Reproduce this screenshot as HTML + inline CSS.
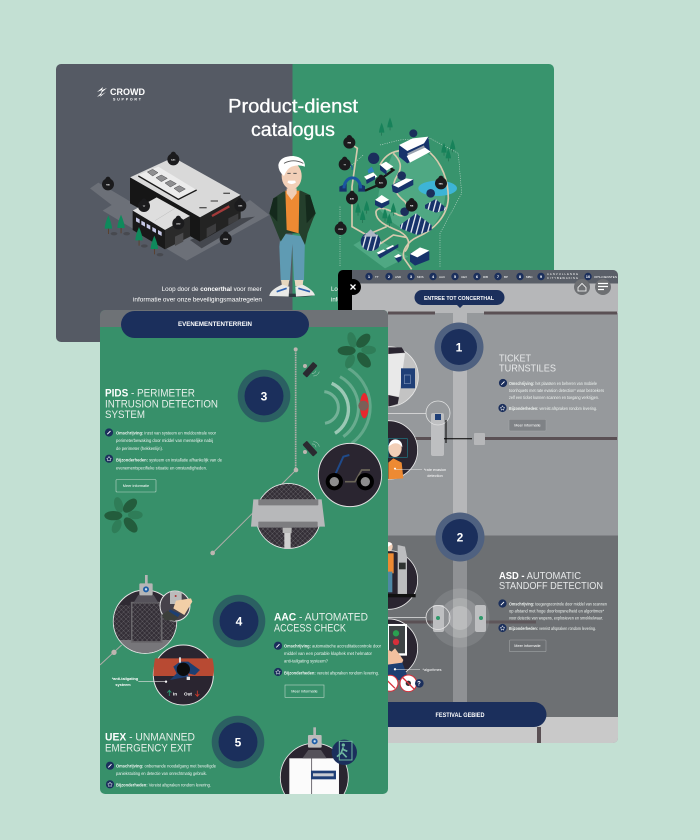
<!DOCTYPE html>
<html lang="nl"><head><meta charset="utf-8"><title>Product-dienst catalogus</title>
<style>
html,body{margin:0;padding:0;background:#c3e0d3}
svg{display:block}
text{font-family:"Liberation Sans",sans-serif;fill:#fff}
.b{font-size:4.2px;fill:#eef3f0}
.h{font-size:11px;fill:#e6efe9}
.h2{font-size:10.5px;fill:#e6e8e9}
.m{font-size:12px;font-weight:bold;text-anchor:middle}
.k{font-size:6px;text-anchor:middle;font-weight:bold}
</style></head><body>
<svg width="700" height="840" viewBox="0 0 700 840" xmlns="http://www.w3.org/2000/svg">
<defs>
<clipPath id="c1"><rect x="56" y="64" width="498" height="278" rx="5"/></clipPath>
<clipPath id="c2"><rect x="338" y="270" width="280" height="473" rx="5"/></clipPath>
<clipPath id="c3"><rect x="100" y="310" width="288" height="484" rx="5"/></clipPath>
<clipPath id="camc"><circle cx="580" cy="633" r="96"/></clipPath>
<clipPath id="gatec"><circle cx="120" cy="155" r="94"/></clipPath>
<g id="mk"><circle cy="-15" r="8" fill="#1b1b1d"/><circle r="18" fill="#1b1b1d"/></g>
<g id="ic1"><circle r="4.1" fill="#1b2f5c"/><path d="M-1.7 1.7L1.5-1.5" stroke="#fff" stroke-width=".9"/></g>
<g id="ic2"><circle r="4.1" fill="#1b2f5c"/><path d="M0-2.3L.8-.7 2.3-.4 1.2.8 1.4 2.2 0 1.5-1.4 2.2-1.2.8-2.3-.4-.8-.7Z" fill="none" stroke="#fff" stroke-width=".5"/></g>
<g id="tr"><path d="M0-26Q-11 0-11 14H11Q11 0 0-26Z" fill="#0f8a5c"/><rect x="-1" y="14" width="2.4" height="16" fill="#5b3b22"/></g>
<g id="tr2"><path d="M0-20Q-8 0-8 10H8Q8 0 0-20Z" fill="#17825a"/><rect x="-.8" y="10" width="1.8" height="9" fill="#1f6a4b"/></g>
<g id="palm">
<g fill="#2f7d58"><ellipse cx="-14" cy="-30" rx="13" ry="24" transform="rotate(-15 -14 -30)"/><ellipse cx="36" cy="0" rx="22" ry="13"/><ellipse cx="-20" cy="34" rx="13" ry="22" transform="rotate(25 -20 34)"/></g>
<g fill="#235c3c"><ellipse cx="20" cy="-28" rx="26" ry="15" transform="rotate(-45 20 -28)"/><ellipse cx="-30" cy="2" rx="27" ry="14"/><ellipse cx="22" cy="30" rx="27" ry="15" transform="rotate(50 22 30)"/></g>
</g>
<pattern id="mesh" width="14" height="14" patternUnits="userSpaceOnUse"><rect width="14" height="14" fill="#342f37"/><path d="M0 0L14 14M14 0L0 14" stroke="#716e74" stroke-width="1.3"/></pattern>
<pattern id="stripe" width="16" height="16" patternUnits="userSpaceOnUse" patternTransform="rotate(15)"><rect width="16" height="16" fill="#17336b"/><rect width="4" height="16" fill="#e9edf3"/></pattern>
</defs>
<rect width="700" height="840" fill="#c3e0d3"/>

<!-- CARD 1 -->
<g clip-path="url(#c1)">
<rect x="56" y="64" width="236.5" height="278" fill="#555a64"/>
<rect x="292.5" y="64" width="262" height="278" fill="#38946d"/>
</g>
<path d="M97 92L103 87 102 90 107 88 101 93 102 90ZM97 97L102 92 101 95 106 92 100 97 101 95Z" fill="#fff"/>
<text x="110" y="95" font-size="9.5" textLength="35" lengthAdjust="spacingAndGlyphs" font-weight="bold">CROWD</text>
<text x="113" y="100.5" font-size="3.6" textLength="28" font-weight="bold">SUPPORT</text>
<text x="228" y="112.7" font-size="19.5" textLength="130" lengthAdjust="spacingAndGlyphs" stroke="#fff" stroke-width=".3">Product-dienst</text>
<text x="251" y="136" font-size="19.5" textLength="84" lengthAdjust="spacingAndGlyphs" stroke="#fff" stroke-width=".3">catalogus</text>
<text x="161.7" y="291" font-size="6" fill="#e8e9ea" textLength="100" lengthAdjust="spacingAndGlyphs">Loop door de <tspan font-weight="bold" fill="#fff">concerthal</tspan> voor meer</text>
<text x="133" y="301.5" font-size="6" fill="#e8e9ea" textLength="129" lengthAdjust="spacingAndGlyphs">informatie over onze beveiligingsmaatregelen</text>
<text x="331" y="291" font-size="6">Loop</text><text x="331" y="301.5" font-size="6">informatie</text>

<!-- building -->
<g transform="translate(90 140) scale(.3333)">
<path d="M0 145L25 128 130 190 330 270 480 180 538 225 290 362 38 212 65 195Z" fill="#6c7078"/>
<path d="M300 300L452 235 495 230 335 325Z" fill="#44474e"/>
<path d="M120 112L250 52 452 165 330 232Z" fill="#d9d9d9"/>
<path d="M120 112L330 232V305L120 190Z" fill="#161616"/>
<path d="M330 232L452 165V235L330 305Z" fill="#232323"/>
<path d="M145 105L205 80 320 150 265 178Z" fill="#ececec"/>
<path d="M145 108L265 178 320 150" fill="none" stroke="#1a1a1a" stroke-width="4"/>
<g fill="#8f8f91" stroke="#4a4a4c" stroke-width="1.5"><path d="M172 96L188 88 204 98 188 108Z"/><path d="M198 113L214 105 232 115 214 125Z"/><path d="M225 129L241 121 259 131 241 141Z"/><path d="M252 145L268 137 286 147 268 157Z"/></g>
<path d="M366 228L418 199" stroke="#a33a3a" stroke-width="7"/>
<path d="M350 265L378 250V275L350 292Z M415 235L445 220V240L415 255Z" fill="#3d3d3f"/>
<g stroke="#555" stroke-width="4"><path d="M400 160L420 160M362 183L384 183M328 203L350 203"/></g>
<path d="M128 212L200 172 300 228 225 270Z" fill="#dedede"/>
<path d="M128 212L225 270V328L128 270Z" fill="#191919"/>
<path d="M225 270L300 228V290L225 328Z" fill="#2a2a2a"/>
<path d="M195 242L255 205" stroke="#bbb" stroke-width="1.5"/>
<g fill="#c6c8e6"><path d="M138 232L149 238V250L138 244Z"/><path d="M154 242L165 248V260L154 254Z"/><path d="M170 251L181 257V269L170 263Z"/><path d="M187 261L198 267V279L187 273Z"/><path d="M204 270L215 276V288L204 282Z"/></g>
<path d="M255 290L280 278V305L255 318Z" fill="#4a4a4c"/>
<g fill="#47494f"><ellipse cx="72" cy="281" rx="10" ry="5"/><ellipse cx="110" cy="281" rx="10" ry="5"/><ellipse cx="163" cy="318" rx="10" ry="5"/><ellipse cx="210" cy="344" rx="10" ry="5"/></g>
<use href="#tr" x="55" y="252"/><use href="#tr" x="93" y="250"/><use href="#tr" x="147" y="287"/><use href="#tr" x="193" y="313"/>
<use href="#mk" x="250" y="58"/><use href="#mk" x="54" y="133"/><use href="#mk" x="162" y="198"/><use href="#mk" x="451" y="197"/><use href="#mk" x="265" y="250"/><use href="#mk" x="407" y="297"/>
<text class="k" x="250" y="61">AAC</text><text class="k" x="54" y="136">RIB</text><text class="k" x="162" y="201">TT</text><text class="k" x="451" y="200">UEX</text><text class="k" x="265" y="253">ASD</text><text class="k" x="407" y="300">PIDS</text>
</g>

<!-- map -->
<g transform="translate(330 120) scale(.3333)">
<path d="M190 95C240 70 300 90 330 140 360 200 350 290 290 335 250 350 190 320 150 270 130 220 170 150 190 95Z" fill="#4fa883"/>
<path d="M70 375L120 345 235 410 165 445Z" fill="#4fa883"/>
<ellipse cx="323" cy="205" rx="58" ry="23" fill="#3db4d6"/>
<g fill="none" stroke="#e0e6e0" stroke-width="1.6" stroke-dasharray="3 4">
<path d="M150 75L210 60 300 55 385 100 395 220 330 340V440"/><path d="M30 260V440"/><path d="M60 140L100 105"/>
</g>
<g fill="none" stroke="#d6caae" stroke-width="5">
<path d="M60 70L82 85 66 200V320L110 345"/>
<path d="M215 92C190 92 165 105 150 135"/>
<path d="M300 98C335 130 355 180 355 235 352 290 310 330 265 350 230 365 215 395 222 415L245 448"/>
<path d="M190 100C210 120 220 140 200 170 180 200 200 225 225 245 240 268 230 295 205 285 180 270 145 255 138 275 135 305 175 320 210 335 235 350 245 370 225 395"/>
<path d="M110 345L170 320M150 372L190 345 228 352"/>
</g>
<g><path d="M28 200L50 190V215L28 215ZM85 190L105 198V215H85Z" fill="#17336b"/>
<path d="M42 205A24 30 0 0 1 92 205" fill="none" stroke="#1a55a0" stroke-width="9"/></g>
<path d="M35 130C55 125 70 135 66 150" fill="none" stroke="#1a55a0" stroke-width="3"/>
<path d="M105 212L145 195 155 175 190 150 175 140" fill="none" stroke="#1a1a1a" stroke-width="7"/>
<path d="M207 75L295 50 300 95 232 130 207 110Z" fill="#17336b"/>
<path d="M207 75L248 55 295 50 282 70 232 93Z" fill="#fff"/>
<path d="M232 100L282 76 285 85 235 110Z" fill="#9aa2ae"/>
<path d="M230 108L285 83 302 95 240 128Z" fill="#fff"/>
<path d="M150 135L168 125 190 140 170 152Z" fill="#fff"/><path d="M150 135L170 152V165L150 150Z" fill="#17336b"/>
<path d="M113 150L125 140 133 155 115 160Z" fill="#2f7fc0"/>
<path d="M102 170L130 157 142 170 115 185Z" fill="#fff"/><path d="M108 180L135 167V178L110 192Z" fill="#17336b"/>
<path d="M185 195L225 175 250 178V195L200 220 188 215Z" fill="#17336b"/><path d="M188 195L228 175 250 178 205 203Z" fill="#fff"/>
<path d="M135 240L155 225 178 240 155 250Z" fill="#fff"/><path d="M135 240L155 250 178 240V252L155 265 135 255Z" fill="#17336b"/>
<path d="M210 315L258 280 305 315V330L262 345 210 325Z" fill="url(#stripe)"/>
<path d="M285 255L317 237 347 262V270L318 278 285 265Z" fill="url(#stripe)"/>
<ellipse cx="122" cy="365" rx="30" ry="28" fill="url(#stripe)"/><path d="M100 350L122 328 144 350Z" fill="#aeb8c6"/>
<path d="M240 400L270 385 298 395V420L255 437 240 425Z" fill="#17336b"/><path d="M240 402L270 382 298 392 262 412Z" fill="#fff"/>
<g fill="#fff"><path d="M140 398L160 388 172 395 150 406Z"/><path d="M168 385L188 375 198 382 178 392Z"/><path d="M192 410L205 402 215 408 203 416Z"/></g>
<path d="M142 405L205 372V382L150 415ZM195 415L215 408V420L205 428Z" fill="#17336b"/>
<use href="#tr2" x="155" y="28"/><use href="#tr2" x="180" y="12"/><use href="#tr2" x="342" y="88"/><use href="#tr2" x="368" y="78"/><use href="#tr2" x="355" y="105"/><use href="#tr2" x="84" y="268"/><use href="#tr2" x="110" y="262"/><use href="#tr2" x="98" y="290"/><use href="#tr2" x="165" y="285"/><use href="#tr2" x="190" y="268"/><use href="#tr2" x="178" y="300"/>
<g fill="#1b2f5c"><circle cx="131" cy="115" r="17"/><circle cx="250" cy="40" r="12"/><circle cx="215" cy="167" r="13"/><circle cx="302" cy="220" r="13"/><circle cx="224" cy="275" r="13"/></g>
<use href="#mk" x="58" y="68"/><use href="#mk" x="44" y="133"/><use href="#mk" x="66" y="235"/><use href="#mk" x="153" y="187"/><use href="#mk" x="32" y="327"/><use href="#mk" x="333" y="190"/><use href="#mk" x="245" y="257"/>
<text class="k" x="58" y="71">RIB</text><text class="k" x="44" y="136">TT</text><text class="k" x="66" y="238">ASD</text><text class="k" x="153" y="190">AAC</text><text class="k" x="32" y="330">PIDS</text><text class="k" x="333" y="193">MBC</text><text class="k" x="245" y="260">RIB</text>
</g>

<!-- person -->
<g transform="translate(260 150) scale(.3333)">
<ellipse cx="97" cy="436" rx="62" ry="5" fill="#2c3a3f"/>
<path d="M62 250L135 260 132 392H102L97 282 90 392H62L58 290Z" fill="#5f9bb3"/>
<path d="M63 390H88L85 408H66ZM104 390H130L128 408H106Z" fill="#e6d7bf"/>
<path d="M28 438Q30 420 66 404L88 410 86 440ZM106 410L128 404Q160 420 165 436L108 440Z" fill="#e9e9e6"/>
<path d="M50 425L80 415M115 415L150 425" stroke="#2f62b0" stroke-width="5"/>
<path d="M70 125L122 122 150 135 167 190 160 205 143 250 135 285 118 250 78 250 62 275 40 220 28 190 40 145Z" fill="#243f2c"/>
<path d="M28 190L40 145 52 140 52 215ZM167 190L150 135 136 135 140 220Z" fill="#14291c"/>
<path d="M76 122H118L116 250 80 240Z" fill="#ed8a33"/>
<path d="M80 115H110V130L95 150 80 130Z" fill="#f0cdb4"/>
<ellipse cx="95" cy="78" rx="30" ry="40" fill="#f2cfb7"/>
<path d="M82 97Q95 108 108 97L105 92H85Z" fill="#fff"/>
<path d="M82 70h10M100 70h10" stroke="#555" stroke-width="3"/>
<path d="M55 45Q60 18 100 18 135 22 135 50 115 42 95 50 82 55 72 78 55 65 55 45Z" fill="#fff"/>
<path d="M72 40Q100 25 130 40" fill="none" stroke="#555" stroke-width="2.5"/>
</g>

<!-- CARD 2 -->
<g clip-path="url(#c2)">
<rect x="338" y="270" width="280" height="473" fill="#96999c"/>
<rect x="338" y="283" width="280" height="30" fill="#b6b7b9"/>
<rect x="338" y="535.5" width="280" height="181.5" fill="#6d7073"/>
<rect x="338" y="717" width="280" height="26" fill="#c9c9c9"/>
<rect x="338" y="270" width="280" height="13.5" fill="#5a5f68"/>
<rect x="338" y="270" width="14" height="60" fill="#000"/>
<rect x="453" y="313" width="14" height="222" fill="#b6b7b9"/>
<rect x="453" y="535" width="14" height="168" fill="#8f9194"/>
<g fill="#5a5054"><rect x="388" y="311.5" width="47" height="3"/><rect x="484" y="311.5" width="133" height="3"/><rect x="388" y="437" width="44" height="3"/><rect x="485" y="437" width="132" height="3"/><rect x="388" y="620.5" width="45" height="3"/><rect x="486" y="620.5" width="50" height="3" opacity=".8"/><rect x="537" y="727" width="4" height="16"/></g>

<!-- photo circles -->
<g transform="translate(385 340) scale(.3333)">
<circle cx="10" cy="110" r="90" fill="#c3c3c3" stroke="#e8e8e8" stroke-width="2.5"/>
<path d="M10 40H60L42 170 10 165Z" fill="#e9e9e9"/><path d="M10 22H50L60 38 10 42Z M10 165L42 172 38 192 10 200Z" fill="#2a2530"/>
<rect x="48" y="85" width="42" height="60" fill="#1f3f77"/><path d="M58 105h18v26h-18z" fill="none" stroke="#7d93b8" stroke-width="2"/>
<circle cx="10" cy="330" r="88" fill="#2a2530" stroke="#e8e8e8" stroke-width="2.5"/>
<rect x="10" y="296" width="57" height="56" fill="none" stroke="#1e7d88" stroke-width="2"/>
<path d="M10 395V368L25 355 50 368 55 415 10 418Z" fill="#ed8a33"/>
<ellipse cx="30" cy="325" rx="20" ry="26" fill="#f2cfb7"/><path d="M10 320Q15 298 32 298 52 300 52 322 40 305 22 312Z" fill="#fff"/>
<circle cx="30" cy="386" r="3" fill="#fff"/>
<circle cx="10" cy="720" r="88" fill="#2a2530" stroke="#e8e8e8" stroke-width="2.5"/>
<path d="M38 615L60 620 66 650V770H38Z" fill="#bcbdbf"/><rect x="42" y="668" width="20" height="20" fill="#2e3230"/>
<rect x="0" y="640" width="26" height="60" fill="#ed8a33"/><rect x="0" y="695" width="22" height="62" fill="#4f88a5"/><ellipse cx="12" cy="620" rx="11" ry="14" fill="#f2cfb7"/><path d="M0 615Q8 600 22 612L10 620Z" fill="#fff"/>
<rect x="0" y="762" width="92" height="10" fill="#111"/>
<circle cx="10" cy="925" r="88" fill="#2a2530" stroke="#e8e8e8" stroke-width="2.5"/>
<rect x="6" y="852" width="60" height="95" fill="#fff"/><rect x="12" y="858" width="48" height="82" fill="#3f4446"/>
<circle cx="33" cy="880" r="9.5" fill="#2aa050"/><circle cx="33" cy="906" r="9.5" fill="#d72f3a"/>
<path d="M0 925L20 935 30 925 55 960 45 985H0Z" fill="#f2c09f"/>
<path d="M0 975L52 968 68 1010 60 1020H0Z" fill="#1d3f72"/>
<circle cx="30" cy="988" r="3.5" fill="#fff"/>
<circle cx="15" cy="1030" r="24" fill="#fff" stroke="#d72f3a" stroke-width="3"/><path d="M0 1015L30 1045" stroke="#d72f3a" stroke-width="4"/>
<circle cx="70" cy="1030" r="25" fill="#fff" stroke="#d72f3a" stroke-width="3"/><circle cx="70" cy="1030" r="8" fill="#333"/><path d="M53 1013L87 1047" stroke="#d72f3a" stroke-width="4"/>
<circle cx="103" cy="1030" r="13" fill="#1b2f5c"/>
</g>
<text x="419" y="685.5" font-size="6" font-weight="bold" text-anchor="middle">?</text>

<!-- turnstile -->
<rect x="431" y="413" width="13" height="43" rx="2" fill="#bebfc1"/><rect x="435" y="414" width="6" height="6" fill="#1f3f77"/>
<circle cx="438" cy="413" r="12" fill="none" stroke="#dfe0e0" stroke-width=".8"/>
<path d="M388 413.5H426" stroke="#e4e4e4" stroke-width=".8"/>
<path d="M446 420V443M444 438.7H472" stroke="#000" stroke-width="1"/>
<rect x="474" y="433" width="11" height="12" rx="1" fill="#b6b7b9"/>
<path d="M395 469.5H422" stroke="#e4e4e4" stroke-width=".6"/>
<text x="435" y="471" font-size="3.8" text-anchor="middle">*rate evasion</text><text x="435" y="477" font-size="3.8" text-anchor="middle">detection</text>

<!-- ASD rings -->
<circle cx="460" cy="618" r="29.5" fill="#fff" opacity=".1"/><circle cx="460" cy="618" r="20" fill="#fff" opacity=".16"/><circle cx="460" cy="618" r="12" fill="#fff" opacity=".2"/>
<rect x="433" y="605" width="11" height="27" rx="2" fill="#bebfc1"/><rect x="475" y="605" width="11" height="27" rx="2" fill="#bebfc1"/>
<circle cx="438" cy="618" r="2" fill="#2f9a6b"/><circle cx="481" cy="618" r="2" fill="#2f9a6b"/>
<circle cx="438" cy="617.5" r="12" fill="none" stroke="#e4e4e4" stroke-width=".8"/>
<path d="M388 617.5H426" stroke="#e4e4e4" stroke-width=".7"/>
<path d="M395 669.5H420" stroke="#e4e4e4" stroke-width=".6"/>
<text x="432" y="671" font-size="3.8" text-anchor="middle">*algoritmes</text>

<!-- number rings -->
<circle cx="459" cy="347" r="24.5" fill="#4f6180"/><circle cx="459" cy="347" r="18" fill="#1b2f5c"/><text class="m" x="459" y="351.5">1</text>
<circle cx="460" cy="537" r="24.5" fill="#4f6180"/><circle cx="460" cy="537" r="18" fill="#1b2f5c"/><text class="m" x="460" y="541.5">2</text>

<!-- ticket copy -->
<text class="h2" x="499" y="361.6" textLength="32" lengthAdjust="spacingAndGlyphs">TICKET</text>
<text class="h2" x="499" y="371.7" textLength="57" lengthAdjust="spacingAndGlyphs">TURNSTILES</text>
<use href="#ic1" x="503" y="383"/><use href="#ic2" x="502.5" y="408"/>
<text class="b" x="509" y="385" textLength="88" lengthAdjust="spacingAndGlyphs"><tspan font-weight="bold">Omschrijving:</tspan> het plaatsen en beheren van mobiele</text>
<text class="b" x="509" y="392" textLength="95" lengthAdjust="spacingAndGlyphs">toonhquets met rate evasion detection* waar bezoekers</text>
<text class="b" x="509" y="399" textLength="90" lengthAdjust="spacingAndGlyphs">zelf een ticket kunnen scannen en toegang verkrijgen.</text>
<text class="b" x="509" y="410" textLength="88" lengthAdjust="spacingAndGlyphs"><tspan font-weight="bold">Bijzonderheden:</tspan> vereist afspraken rondom levering.</text>
<rect x="509" y="419.3" width="37" height="11.7" rx="1" fill="#7f8286" stroke="#a6a8aa" stroke-width=".5"/>
<text x="527.5" y="426.5" font-size="3.8" text-anchor="middle" fill="#ddd">Meer informatie</text>

<!-- ASD copy -->
<text class="h2" x="499" y="579" textLength="82" lengthAdjust="spacingAndGlyphs"><tspan font-weight="bold" fill="#fff">ASD -</tspan> AUTOMATIC</text>
<text class="h2" x="499" y="589" textLength="104" lengthAdjust="spacingAndGlyphs">STANDOFF DETECTION</text>
<use href="#ic1" x="502.5" y="603.5"/><use href="#ic2" x="502.5" y="628"/>
<text class="b" x="509" y="605.5" textLength="98" lengthAdjust="spacingAndGlyphs"><tspan font-weight="bold">Omschrijving:</tspan> toegangscontrole door middel van scannen</text>
<text class="b" x="509" y="612.5" textLength="95" lengthAdjust="spacingAndGlyphs">op afstand met hoge doorloopsnelheid en algoritmes*</text>
<text class="b" x="509" y="619.5" textLength="94" lengthAdjust="spacingAndGlyphs">voor detectie van wapens, explosieven en smokkelwaar.</text>
<text class="b" x="509" y="630" textLength="87" lengthAdjust="spacingAndGlyphs"><tspan font-weight="bold">Bijzonderheden:</tspan> vereist afspraken rondom levering.</text>
<rect x="509.5" y="640" width="36.5" height="11.7" rx="1" fill="none" stroke="#a0a2a4" stroke-width=".6"/>
<text x="527.5" y="647.2" font-size="3.8" text-anchor="middle" fill="#ddd">Meer informatie</text>

<!-- festival pill -->
<path d="M338 702H534A12.5 12.5 0 0 1 534 727H338Z" fill="#1b2f5c"/>
<text x="435.5" y="717" font-size="6" font-weight="bold" textLength="49" lengthAdjust="spacingAndGlyphs">FESTIVAL GEBIED</text>

<!-- top bar -->
<g fill="#1b2f5c"><circle cx="369" cy="276.5" r="3.7"/><circle cx="389" cy="276.5" r="3.7"/><circle cx="411" cy="276.5" r="3.7"/><circle cx="433" cy="276.5" r="3.7"/><circle cx="455" cy="276.5" r="3.7"/><circle cx="477" cy="276.5" r="3.7"/><circle cx="498" cy="276.5" r="3.7"/><circle cx="520" cy="276.5" r="3.7"/><circle cx="541" cy="276.5" r="3.7"/><circle cx="588" cy="276.5" r="3.7"/></g>
<g font-size="4" font-weight="bold" text-anchor="middle"><text x="369" y="278">1</text><text x="389" y="278">2</text><text x="411" y="278">3</text><text x="433" y="278">4</text><text x="455" y="278">5</text><text x="477" y="278">6</text><text x="498" y="278">7</text><text x="520" y="278">8</text><text x="541" y="278">9</text><text x="588" y="278">10</text></g>
<g font-size="3" fill="#dfe0e2"><text x="375" y="278">TT</text><text x="395" y="278">ASD</text><text x="417" y="278">MDS</text><text x="439" y="278">AAC</text><text x="461" y="278">UEX</text><text x="483" y="278">RIB</text><text x="504" y="278">BP</text><text x="526" y="278">MBC</text>
<text x="547" y="275" font-size="2.7" textLength="31">AANVULLENDE</text><text x="547" y="279" font-size="2.7" textLength="31">CITYBEWAKING</text><text x="594" y="278" textLength="23">OPS-DIENSTEN</text></g>
<circle cx="582" cy="287" r="8" fill="#6e7073"/><circle cx="603" cy="287" r="8" fill="#6e7073"/>
<path d="M578 287.5L582 283.5 586 287.5V291H578Z" fill="none" stroke="#fff" stroke-width=".8"/>
<path d="M598 283.5H608M598 286.5H608M598 289.5H604" stroke="#fff" stroke-width="1.2"/>
<circle cx="353" cy="287" r="8" fill="#000"/><path d="M350.5 284.5L355.5 289.5M355.5 284.5L350.5 289.5" stroke="#fff" stroke-width="1.3"/>
<path d="M422 290H497A7.5 7.5 0 0 1 497 305H463L460 308 457 305H422A7.5 7.5 0 0 1 422 290Z" fill="#1b2f5c"/>
<text x="424" y="299.8" font-size="5.6" font-weight="bold" textLength="70" lengthAdjust="spacingAndGlyphs">ENTREE TOT CONCERTHAL</text>
</g>

<!-- CARD 3 -->
<g clip-path="url(#c3)">
<rect x="100" y="310" width="288" height="484" fill="#37906a"/>
<rect x="100" y="310" width="288" height="17" fill="#6e7276"/>
<rect x="121" y="311" width="188" height="27" rx="13.5" fill="#1b2f5c"/>
<text x="178" y="326" font-size="6" font-weight="bold" textLength="74" lengthAdjust="spacingAndGlyphs">EVENEMENTENTERREIN</text>

<!-- PIDS -->
<g fill="#2b6062"><circle cx="264" cy="396" r="26.3"/><circle cx="239" cy="621" r="26.3"/><circle cx="238" cy="742" r="26.3"/></g>
<g fill="#1b2f5c"><circle cx="264" cy="396" r="19.5"/><circle cx="239" cy="621" r="19.5"/><circle cx="238" cy="742" r="19.5"/></g>
<text class="m" x="264" y="400.5">3</text><text class="m" x="239" y="625.5">4</text><text class="m" x="238" y="746.5">5</text>

<text class="h" x="105" y="396.7" textLength="90" lengthAdjust="spacingAndGlyphs"><tspan font-weight="bold" fill="#fff">PIDS</tspan> - PERIMETER</text>
<text class="h" x="105" y="407.3" textLength="113" lengthAdjust="spacingAndGlyphs">INTRUSION DETECTION</text>
<text class="h" x="105" y="418" textLength="40" lengthAdjust="spacingAndGlyphs">SYSTEM</text>
<use href="#ic1" x="109" y="432.5"/><use href="#ic2" x="109" y="458.7"/>
<text class="b" x="116" y="434.5" textLength="100" lengthAdjust="spacingAndGlyphs"><tspan font-weight="bold">Omschrijving:</tspan> inzet van systeem en meldcentrale voor</text>
<text class="b" x="116" y="442.2" textLength="97" lengthAdjust="spacingAndGlyphs">perimeterbewaking door middel van menselijke nabij</text>
<text class="b" x="116" y="450" textLength="47" lengthAdjust="spacingAndGlyphs">de perimeter (hekkenlijn).</text>
<text class="b" x="116" y="461.5" textLength="106" lengthAdjust="spacingAndGlyphs"><tspan font-weight="bold">Bijzonderheden:</tspan> systeem en installatie afhankelijk van de</text>
<text class="b" x="116" y="469.5" textLength="91" lengthAdjust="spacingAndGlyphs">evenementspecifieke situatie en omstandigheden.</text>
<rect x="116" y="479.5" width="40" height="12.5" rx="1" fill="none" stroke="#bcd6c8" stroke-width=".6"/>
<text x="136" y="487" font-size="3.8" text-anchor="middle" fill="#e6efe9">Meer informatie</text>

<g transform="translate(280 340) scale(.3333)">
<path d="M47 30V390" stroke="#b0aca8" stroke-width="5" stroke-dasharray="5 2"/>
<circle cx="47" cy="28" r="6" fill="#bdb5b0"/>
<g fill="none" stroke="#fff"><path d="M133 155A48 48 0 0 1 135 250" stroke-width="9" opacity=".3"/><path d="M155 130A85 85 0 0 1 165 280" stroke-width="10" opacity=".5"/><path d="M180 110A106 106 0 0 1 190 290" stroke-width="9" opacity=".25"/><path d="M205 85A135 135 0 0 1 215 310" stroke-width="9" opacity=".22"/></g>
<ellipse cx="253" cy="197" rx="13" ry="38" fill="#e8282e"/><circle cx="250" cy="197" r="15" fill="#7a5f58"/>
<rect x="66" y="80" width="48" height="18" rx="3" fill="#2a2a30" transform="rotate(-48 90 89)"/><circle cx="75" cy="78" r="6" fill="#bdb5b0"/>
<rect x="66" y="317" width="48" height="18" rx="3" fill="#2a2a30" transform="rotate(48 90 326)"/><circle cx="75" cy="336" r="6" fill="#bdb5b0"/>
<path d="M100 108A18 18 0 0 0 118 95M96 100A10 10 0 0 0 108 92M100 305A18 18 0 0 1 118 320M96 312A10 10 0 0 1 108 322" fill="none" stroke="#cfe0d6" stroke-width="1.2"/>
<circle cx="210" cy="405" r="95" fill="#2a2530" stroke="#e0e0e0" stroke-width="3"/>
<path d="M195 425H225L245 390H270" fill="none" stroke="#6a6558" stroke-width="5"/>
<path d="M165 405L190 350 208 345" fill="none" stroke="#1f4a8a" stroke-width="6"/>
<circle cx="163" cy="425" r="26" fill="#000"/><circle cx="256" cy="425" r="26" fill="#000"/><circle cx="163" cy="425" r="14" fill="#8d8d8d"/><circle cx="256" cy="425" r="14" fill="#8d8d8d"/>
</g>
<g transform="translate(95 305) scale(.3333)">
<use href="#palm" x="785" y="135"/><use href="#palm" x="85" y="630"/>
<path d="M603 495L353 744" stroke="#b0aca8" stroke-width="3"/>
<circle cx="603" cy="495" r="7" fill="#bdb5b0"/><circle cx="353" cy="744" r="7" fill="#bdb5b0"/>
<circle cx="580" cy="633" r="97" fill="#2a2530" stroke="#e6e6e6" stroke-width="3"/>
<g clip-path="url(#camc)"><rect x="480" y="535" width="200" height="50" fill="url(#mesh)"/><rect x="480" y="668" width="200" height="70" fill="url(#mesh)"/></g>
<rect x="563" y="668" width="27" height="16" fill="#b8b8b8"/><rect x="568" y="684" width="19" height="48" fill="#cfcfcf"/>
<path d="M475 583H680L690 665H468Z" fill="#b7b8ba"/>
<rect x="490" y="583" width="180" height="18" rx="2" fill="#7d7d80"/><rect x="490" y="650" width="178" height="18" rx="2" fill="#7d7d80"/>
</g>

<!-- AAC illustration -->
<g transform="translate(105 570) scale(.3333)">
<path d="M-15 285L50 225" stroke="#b0aca8" stroke-width="3"/><circle cx="27" cy="247" r="8" fill="#bdb5b0"/>
<circle cx="120" cy="155" r="95" fill="#2f2a33" stroke="#e6e6e6" stroke-width="3"/>
<g clip-path="url(#gatec)">
<path d="M20 210H220V255H20Z" fill="#77767a"/>
<rect x="25" y="105" width="50" height="105" fill="url(#mesh)"/><rect x="172" y="105" width="50" height="105" fill="url(#mesh)"/>
<rect x="80" y="98" width="90" height="118" fill="url(#mesh)" stroke="#6a686c" stroke-width="5"/>
<path d="M100 75H146L160 98H86Z" fill="#55525a"/>
</g>
<rect x="120" y="15" width="8" height="30" fill="#b5b5b5"/><rect x="103" y="40" width="40" height="36" rx="3" fill="#b5b5b5"/><circle cx="123" cy="58" r="9" fill="#1e5fa8"/><circle cx="123" cy="58" r="3.5" fill="#cde"/>
<circle cx="210" cy="108" r="45" fill="#46424a" stroke="#e6e6e6" stroke-width="3"/>
<rect x="195" y="65" width="35" height="37" fill="#bbb"/><circle cx="212" cy="78" r="3" fill="#a33"/>
<path d="M213 92L258 85 262 95 238 135 205 115Z" fill="#f2cfa7"/>
<path d="M195 118L225 132 218 142 190 128Z" fill="#1d3f72"/><path d="M170 135L188 122 220 142 210 153 180 150Z" fill="#3c3f3a"/>
<circle cx="235" cy="315" r="90" fill="#2a2530" stroke="#e6e6e6" stroke-width="3"/>
<path d="M150 265H322Q330 295 325 318H145Q145 290 150 265Z" fill="#b84a33"/>
<path d="M205 290L225 275 250 275 285 300 270 315 250 310 250 320 220 325 195 330 215 310Z" fill="#1d3f72"/>
<circle cx="235" cy="298" r="20" fill="#0c0c0c"/>
<rect x="222" y="262" width="6" height="16" fill="#ddd"/><rect x="245" y="320" width="10" height="10" fill="#e8e8e8"/>
<circle cx="183" cy="335" r="3.5" fill="#fff"/><path d="M100 335H183" stroke="#e4e4e4" stroke-width="2"/>
<path d="M193 378V362M187 368L193 361 199 368" fill="none" stroke="#2a9d76" stroke-width="2.5"/>
<path d="M277 362V378M271 372L277 379 283 372" fill="none" stroke="#d13a2a" stroke-width="2.5"/>
</g>
<text x="173" y="695.5" font-size="4.6" font-weight="bold" fill="#2a9d76">In</text><text x="184" y="695.5" font-size="4.6" font-weight="bold" fill="#d13a2a">Out</text>
<g font-size="3.8" font-weight="bold" text-anchor="middle"><text x="125" y="680">*anti-tailgating</text><text x="123" y="686">systeem</text></g>

<text class="h" x="274" y="620.7" textLength="94" lengthAdjust="spacingAndGlyphs"><tspan font-weight="bold" fill="#fff">AAC</tspan> - AUTOMATED</text>
<text class="h" x="274" y="631.3" textLength="72" lengthAdjust="spacingAndGlyphs">ACCESS CHECK</text>
<use href="#ic1" x="278" y="645.7"/><use href="#ic2" x="278" y="672"/>
<text class="b" x="284" y="647.3" textLength="97" lengthAdjust="spacingAndGlyphs"><tspan font-weight="bold">Omschrijving:</tspan> automatische accreditatiecontrole door</text>
<text class="b" x="284" y="655" textLength="88" lengthAdjust="spacingAndGlyphs">middel van een portable klaphek met helmator</text>
<text class="b" x="284" y="662.7" textLength="44" lengthAdjust="spacingAndGlyphs">anti-tailgating systeem?</text>
<text class="b" x="284" y="674.3" textLength="95" lengthAdjust="spacingAndGlyphs"><tspan font-weight="bold">Bijzonderheden:</tspan> vereist afspraken rondom levering.</text>
<rect x="285" y="685" width="39" height="12.3" fill="none" stroke="#bcd6c8" stroke-width=".6"/>
<text x="304.5" y="692.5" font-size="3.8" text-anchor="middle" fill="#e6efe9">Meer informatie</text>

<!-- UEX -->
<text class="h" x="105" y="740.7" textLength="90" lengthAdjust="spacingAndGlyphs"><tspan font-weight="bold" fill="#fff">UEX</tspan> - UNMANNED</text>
<text class="h" x="105" y="751.3" textLength="87" lengthAdjust="spacingAndGlyphs">EMERGENCY EXIT</text>
<use href="#ic1" x="110" y="765.7"/><use href="#ic2" x="110" y="784.3"/>
<text class="b" x="116" y="767.3" textLength="100" lengthAdjust="spacingAndGlyphs"><tspan font-weight="bold">Omschrijving:</tspan> onbemande noodafgang met beveiligde</text>
<text class="b" x="116" y="775" textLength="91" lengthAdjust="spacingAndGlyphs">paniekstuiting en detectie van onrechtmatig gebruik.</text>
<text class="b" x="116" y="786.3" textLength="95" lengthAdjust="spacingAndGlyphs"><tspan font-weight="bold">Bijzonderheden:</tspan> Vereist afspraken rondom levering.</text>

<g transform="translate(95 560) scale(.3333)">
<circle cx="658" cy="652" r="102" fill="#2a2530" stroke="#e6e6e6" stroke-width="2.5"/>
<rect x="583" y="595" width="149" height="110" fill="#fbfbfb"/>
<path d="M650 595V705" stroke="#55525a" stroke-width="2.5"/>
<path d="M640 570H678L695 595H622Z" fill="#55525a"/>
<rect x="648" y="632" width="75" height="26" fill="#1f3f77"/><rect x="654" y="640" width="62" height="9" fill="#c9ccd2"/>
<rect x="655" y="502" width="8" height="26" fill="#b5b5b5"/><rect x="639" y="525" width="41" height="38" rx="3" fill="#bcbcbc"/><circle cx="659" cy="544" r="9" fill="#1e5fa8"/><circle cx="659" cy="544" r="3.5" fill="#cde"/>
<circle cx="748" cy="577" r="38" fill="#1b2f5c"/>
<rect x="733" y="544" width="38" height="56" fill="none" stroke="#6fb8a0" stroke-width="3"/>
<circle cx="745" cy="555" r="5" fill="#6fb8a0"/><path d="M745 562L738 580 726 590M742 578L755 592M743 568L757 574" fill="none" stroke="#6fb8a0" stroke-width="5"/>
</g>
</g>
</svg>
</body></html>
